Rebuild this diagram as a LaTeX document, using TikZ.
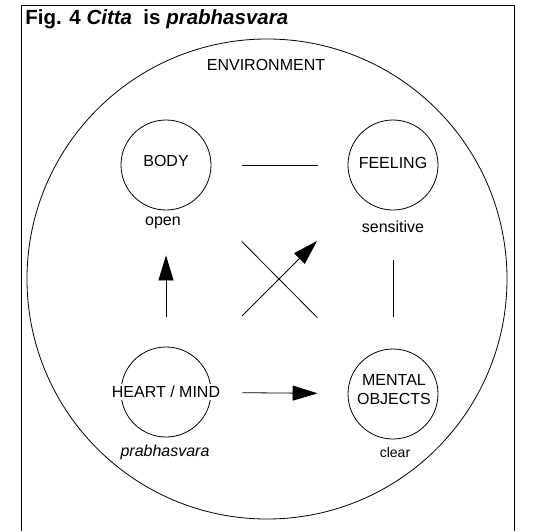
\documentclass[tikz,border=0pt]{standalone}
\usepackage{fontspec}
\setmainfont{Liberation Sans}
\usetikzlibrary{arrows.meta}
\begin{document}
\begin{tikzpicture}[x=1pt,y=-1pt,
  line width=0.8pt,
  every node/.style={font=\fontsize{16}{19}\selectfont, inner sep=0pt, align=center},
  part/.style={circle, draw, minimum size=90pt},
  masked/.style={fill=white, inner sep=1pt},
  tip/.style={-{Triangle[length=25pt,width=15pt]}},
  ]
\useasboundingbox (0,0) rectangle (546,531);
% open frame round the figure
\draw (21,531) -- (21,5) -- (514,5) -- (514,531);
\node[anchor=base west, font=\bfseries\fontsize{20.5}{25}\selectfont] (title) at (25,24)
  {Fig. 4 \textit{Citta}\ \ is \textit{prabhasvara}};

% the environment
\node[circle, draw, minimum size=480pt] (env) at (267,279) {};
\node (envtext) at (266,65) {ENVIRONMENT};

% the four parts: rings, then their names
\node[part] (body) at (166,165) {};
\node[part] (feeling) at (393,165) {};
\node[part] (mind) at (166,392) {};
\node[part] (objects) at (393,394) {};
\node (bodytext) at (166,161) {BODY};
\node (feelingtext) at (393,163) {FEELING};
\node[masked, inner sep=2pt] (mindtext) at (166,392) {HEART / MIND};
\node (objectstext) at (394,390) {MENTAL\\OBJECTS};

% qualities
\node (open) at (163,223) {open};
\node (sensitive) at (393,227) {sensitive};
\node[masked, font=\itshape\fontsize{16}{19}\selectfont] (prab) at (165,452) {prabhasvara};
\node[font=\fontsize{14}{17}\selectfont] (clear) at (395,452) {clear};

% relations
\draw[shorten <=31pt, shorten >=30pt] (body) -- (feeling);
\draw[shorten <=50pt, shorten >=32pt] (feeling) -- (objects);
\draw[tip, shorten <=30pt, shorten >=45pt] (mind) -- (body);
\draw[tip, shorten <=31pt, shorten >=30pt] (mind) -- (objects);
\draw[shorten <=62pt, shorten >=62pt] (body) -- (objects);
\draw[tip, shorten <=62pt, shorten >=62pt] (mind) -- (feeling);
\end{tikzpicture}
\end{document}
